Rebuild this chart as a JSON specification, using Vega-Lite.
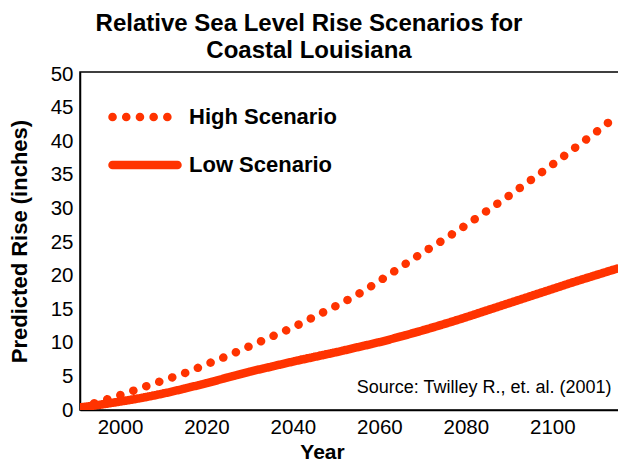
{
  "$schema": "https://vega.github.io/schema/vega-lite/v6.json",
  "width": 540,
  "height": 338,
  "autosize": "none",
  "padding": {"left": 80, "top": 72, "right": 0, "bottom": 53},
  "background": "white",
  "config": {
    "font": "Liberation Sans",
    "view": {"stroke": "black", "strokeWidth": 1.5},
    "axis": {"labelOverlap": false}
  },
  "title": {
    "text": ["Relative Sea Level Rise Scenarios for", "Coastal Louisiana"],
    "fontSize": 24,
    "fontWeight": "bold",
    "font": "Liberation Sans",
    "color": "black",
    "lineHeight": 27,
    "offset": 1,
    "dx": -41,
    "anchor": "middle"
  },
  "layer": [
    {
      "data": {
        "values": [
          {"year": 1991, "rise": 0.4, "scenario": "High Scenario"},
          {"year": 1995, "rise": 1.2, "scenario": "High Scenario"},
          {"year": 2000, "rise": 2.2, "scenario": "High Scenario"},
          {"year": 2005, "rise": 3.3, "scenario": "High Scenario"},
          {"year": 2010, "rise": 4.4, "scenario": "High Scenario"},
          {"year": 2015, "rise": 5.5, "scenario": "High Scenario"},
          {"year": 2020, "rise": 6.8, "scenario": "High Scenario"},
          {"year": 2025, "rise": 8.1, "scenario": "High Scenario"},
          {"year": 2030, "rise": 9.5, "scenario": "High Scenario"},
          {"year": 2035, "rise": 10.9, "scenario": "High Scenario"},
          {"year": 2040, "rise": 12.3, "scenario": "High Scenario"},
          {"year": 2045, "rise": 13.9, "scenario": "High Scenario"},
          {"year": 2050, "rise": 15.5, "scenario": "High Scenario"},
          {"year": 2055, "rise": 17.2, "scenario": "High Scenario"},
          {"year": 2060, "rise": 19.2, "scenario": "High Scenario"},
          {"year": 2065, "rise": 21.3, "scenario": "High Scenario"},
          {"year": 2070, "rise": 23.4, "scenario": "High Scenario"},
          {"year": 2075, "rise": 25.4, "scenario": "High Scenario"},
          {"year": 2080, "rise": 27.5, "scenario": "High Scenario"},
          {"year": 2085, "rise": 29.7, "scenario": "High Scenario"},
          {"year": 2090, "rise": 31.9, "scenario": "High Scenario"},
          {"year": 2095, "rise": 34.2, "scenario": "High Scenario"},
          {"year": 2100, "rise": 36.5, "scenario": "High Scenario"},
          {"year": 2105, "rise": 38.9, "scenario": "High Scenario"},
          {"year": 2110, "rise": 41.3, "scenario": "High Scenario"},
          {"year": 2115, "rise": 43.8, "scenario": "High Scenario"},
          {"year": 1991, "rise": 0.4, "scenario": "Low Scenario"},
          {"year": 1995, "rise": 0.75, "scenario": "Low Scenario"},
          {"year": 2000, "rise": 1.25, "scenario": "Low Scenario"},
          {"year": 2005, "rise": 1.8, "scenario": "Low Scenario"},
          {"year": 2010, "rise": 2.45, "scenario": "Low Scenario"},
          {"year": 2015, "rise": 3.2, "scenario": "Low Scenario"},
          {"year": 2020, "rise": 4.0, "scenario": "Low Scenario"},
          {"year": 2025, "rise": 4.85, "scenario": "Low Scenario"},
          {"year": 2030, "rise": 5.7, "scenario": "Low Scenario"},
          {"year": 2035, "rise": 6.45, "scenario": "Low Scenario"},
          {"year": 2040, "rise": 7.2, "scenario": "Low Scenario"},
          {"year": 2045, "rise": 7.9, "scenario": "Low Scenario"},
          {"year": 2050, "rise": 8.6, "scenario": "Low Scenario"},
          {"year": 2055, "rise": 9.35, "scenario": "Low Scenario"},
          {"year": 2060, "rise": 10.1, "scenario": "Low Scenario"},
          {"year": 2065, "rise": 10.95, "scenario": "Low Scenario"},
          {"year": 2070, "rise": 11.85, "scenario": "Low Scenario"},
          {"year": 2075, "rise": 12.8, "scenario": "Low Scenario"},
          {"year": 2080, "rise": 13.8, "scenario": "Low Scenario"},
          {"year": 2085, "rise": 14.85, "scenario": "Low Scenario"},
          {"year": 2090, "rise": 15.9, "scenario": "Low Scenario"},
          {"year": 2095, "rise": 16.95, "scenario": "Low Scenario"},
          {"year": 2100, "rise": 18.0, "scenario": "Low Scenario"},
          {"year": 2105, "rise": 19.05, "scenario": "Low Scenario"},
          {"year": 2110, "rise": 20.05, "scenario": "Low Scenario"},
          {"year": 2115, "rise": 21.05, "scenario": "Low Scenario"}
        ]
      },
      "mark": {"type": "line", "strokeWidth": 8.5, "strokeCap": "round", "strokeJoin": "round", "interpolate": "monotone", "clip": true},
      "encoding": {
        "x": {
          "field": "year",
          "type": "quantitative",
          "scale": {"domain": [1990.75, 2115.66], "nice": false, "zero": false},
          "axis": {
            "values": [2000, 2020, 2040, 2060, 2080, 2100],
            "format": "d",
            "ticks": false,
            "grid": false,
            "labelFontSize": 20.5,
            "labelColor": "black",
            "labelPadding": 7,
            "labelOverlap": false,
            "domainColor": "black",
            "domainWidth": 1.5,
            "title": "Year",
            "titleFontSize": 21,
            "titleFontWeight": "bold",
            "titleColor": "black",
            "titlePadding": 4,
            "titleX": 242
          }
        },
        "y": {
          "field": "rise",
          "type": "quantitative",
          "scale": {"domain": [0, 50.3], "nice": false},
          "axis": {
            "values": [0, 5, 10, 15, 20, 25, 30, 35, 40, 45, 50],
            "ticks": false,
            "grid": false,
            "labelFontSize": 20.5,
            "labelColor": "black",
            "labelPadding": 7,
            "labelOverlap": false,
            "domainColor": "black",
            "domainWidth": 1.5,
            "title": "Predicted Rise (inches)",
            "titleFontSize": 22,
            "titleFontWeight": "bold",
            "titleColor": "black",
            "titlePadding": 19
          }
        },
        "color": {
          "field": "scenario",
          "type": "nominal",
          "scale": {"domain": ["High Scenario", "Low Scenario"], "range": ["#ff3300", "#ff3300"]},
          "legend": {
            "orient": "none",
            "legendX": 28,
            "legendY": 33,
            "title": null,
            "symbolType": "stroke",
            "symbolSize": 4225,
            "symbolStrokeWidth": 8.5,
            "labelFontSize": 22,
            "labelFont": "Liberation Sans",
            "labelFontWeight": "bold",
            "labelColor": "black",
            "labelOffset": 7,
            "labelLimit": 300,
            "clipHeight": 24,
            "rowPadding": 24,
            "encode": {"symbols": {"update": {"strokeCap": {"value": "round"}}}}
          }
        },
        "strokeDash": {
          "field": "scenario",
          "type": "nominal",
          "scale": {"domain": ["High Scenario", "Low Scenario"], "range": [[0.1, 13.6], [1, 0]]}
        }
      }
    },
    {
      "data": {"values": [{"note": "Source: Twilley R., et. al. (2001)"}]},
      "mark": {"type": "text", "align": "right", "baseline": "alphabetic", "fontSize": 18, "font": "Liberation Sans", "color": "black"},
      "encoding": {
        "text": {"field": "note"},
        "x": {
          "datum": 2113.7,
          "type": "quantitative",
          "axis": {
            "values": [2000, 2020, 2040, 2060, 2080, 2100],
            "format": "d",
            "labelOverlap": false,
            "title": "Year"
          }
        },
        "y": {
          "datum": 2.5,
          "type": "quantitative",
          "axis": {
            "values": [0, 5, 10, 15, 20, 25, 30, 35, 40, 45, 50],
            "labelOverlap": false,
            "title": "Predicted Rise (inches)"
          }
        }
      }
    }
  ]
}
